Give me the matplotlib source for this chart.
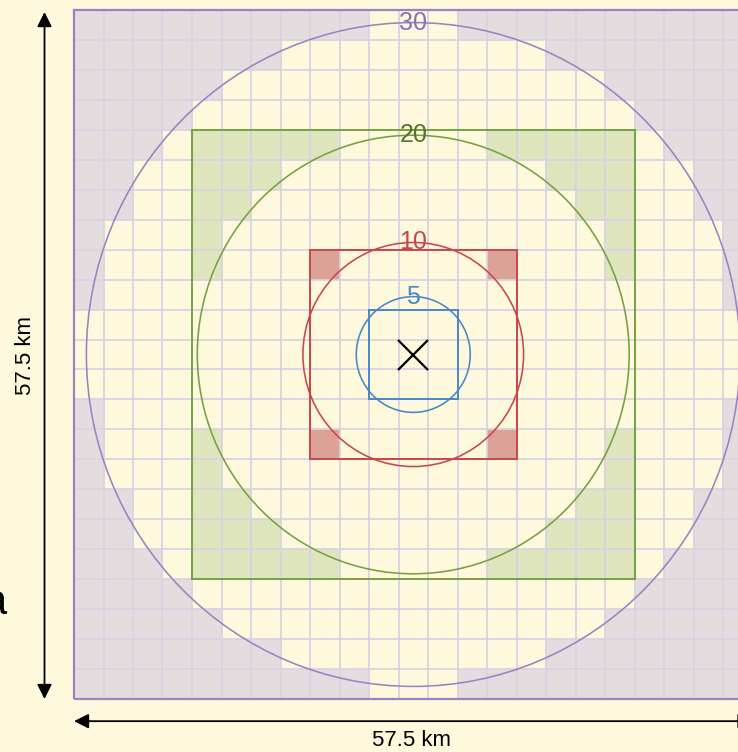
import matplotlib
matplotlib.use('Agg')
import matplotlib.pyplot as plt
from matplotlib.patches import Rectangle, Ellipse

plt.rcParams['font.family'] = ['Liberation Sans', 'DejaVu Sans']

# grid of 2.5 km cells, 23 x 23 -> 57.5 km
cell_km = 2.5
n_cells = 23
side_label = '57.5 km'

# circle labels and radii (km)
circle_labels = ['5', '10', '20', '30']
circle_radii = [4.83, 9.35, 18.3, 27.7]

# squares: half size in cells, and for each row |j| how far (|i|) cells stay unshaded
square_half = [1, 3, 7, 11]
blue_open = [1, 1]
red_open = [3, 3, 3, 2]
green_open = [7, 7, 7, 6, 6, 5, 4, 2]
purple_open = [11, 11, 10, 10, 10, 9, 9, 8, 7, 6, 4, 1]
open_rows = [blue_open, red_open, green_open, purple_open]

line_colors = ['#4a86c8', '#c9474a', '#77a043', '#9a83c0']
label_colors = ['#4a86c8', '#c9474a', '#52722b', '#8a70b8']
fill_colors = [None, '#dca295', '#dfe6bd', '#e4dddf']
bg = '#fef8dd'
grid_color = '#d8d3e3'

W, H = 738, 752
fig = plt.figure(figsize=(W / 100, H / 100), dpi=100, facecolor=bg)
half = n_cells * cell_km / 2
# grid drawn from x=74 px, y=10 px (top) to y=699 px
ax = fig.add_axes([74 / W, (H - 699) / H, 678.5 / W, 689 / H])
ax.set_xlim(-half, half)
ax.set_ylim(-half, half)
ax.axis('off')
ax.set_facecolor(bg)

# shaded cells
for k in range(len(square_half)):
    if fill_colors[k] is None:
        continue
    n = square_half[k]
    op = open_rows[k]
    for j in range(-n, n + 1):
        for i in range(-n, n + 1):
            if abs(i) > op[abs(j)]:
                ax.add_patch(Rectangle(((i - 0.5) * cell_km, (j - 0.5) * cell_km),
                                       cell_km, cell_km, facecolor=fill_colors[k],
                                       edgecolor='none', zorder=1))

# grid lines
for m in range(n_cells + 1):
    v = -half + m * cell_km
    ax.plot([v, v], [-half, half], color=grid_color, lw=1.3, zorder=2)
    ax.plot([-half, half], [v, v], color=grid_color, lw=1.3, zorder=2)

# square borders
for k in range(len(square_half)):
    s = (square_half[k] + 0.5) * cell_km
    ax.add_patch(Rectangle((-s, -s), 2 * s, 2 * s, facecolor='none',
                           edgecolor=line_colors[k], lw=1.4 if k < 3 else 1.6,
                           zorder=3, clip_on=False))

# circles and labels
for k in range(len(circle_radii)):
    r = circle_radii[k]
    ax.add_patch(Ellipse((0, 0), 2 * r, 2 * r, facecolor='none',
                         edgecolor=line_colors[k], lw=1.15, zorder=4))
    ax.text(0, r, circle_labels[k], color=label_colors[k], fontsize=18,
            ha='center', va='center', zorder=5)

# centre cross
ax.plot([0], [0], marker='x', ms=21, mew=1.6, color='black', zorder=6)

# dimension arrows
arrow = dict(arrowstyle='<|-|>', color='black', lw=1.3, mutation_scale=22,
             shrinkA=0, shrinkB=0)
ax.annotate('', xy=(-half - 2.5, half - 0.17), xytext=(-half - 2.5, -half),
            xycoords='data', arrowprops=arrow, annotation_clip=False)
ax.annotate('', xy=(-half, -half - 1.85), xytext=(half, -half - 1.85),
            xycoords='data', arrowprops=arrow, annotation_clip=False)
fig.text(26 / W, 1 - 356 / H, side_label, rotation=90, ha='center', va='center',
         fontsize=16, color='black')
fig.text(411 / W, 1 - 741 / H, side_label, ha='center', va='center',
         fontsize=16, color='black')
fig.text(6 / W, 1 - 603 / H, 'a', ha='right', va='center', fontsize=30,
         color='black')

fig.savefig('out.png', dpi=100, facecolor=bg)
